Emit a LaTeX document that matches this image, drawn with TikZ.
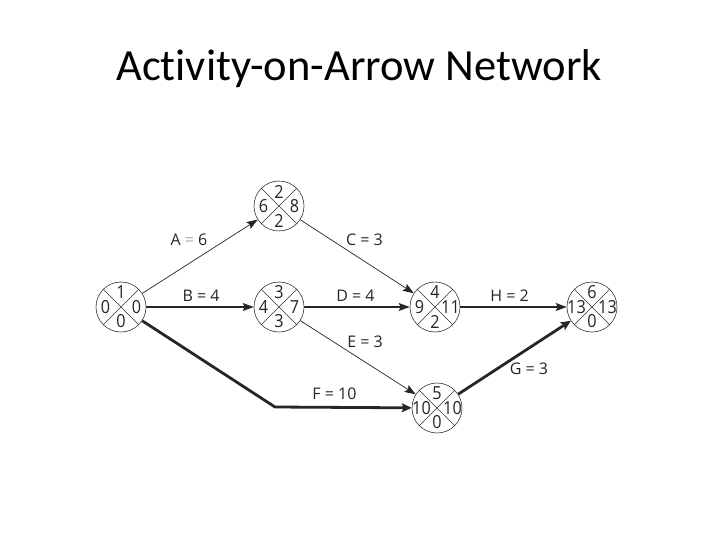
\documentclass[tikz,border=0pt]{standalone}
\usepackage{fontspec}
\setmainfont{Open Sans}
\newfontfamily\titlefont[RawFeature={-liga;-clig;-dlig;-calt}]{Carlito}
\newfontfamily\numfont[FakeStretch=0.9]{Open Sans}
\usetikzlibrary{arrows.meta}
\tikzset{
  event/.style={circle, draw=black!80, line width=0.6pt, minimum size=50pt, inner sep=0pt,
    path picture={\draw[line width=0.5pt, black!80]
      (path picture bounding box.north west) -- (path picture bounding box.south east)
      (path picture bounding box.north east) -- (path picture bounding box.south west);}},
  num/.style={font=\numfont\fontsize{18}{18}\selectfont, inner sep=0pt, text=black!85},
  lab/.style={font=\fontsize{16}{16}\selectfont, inner sep=0pt, text=black!85},
  thinarrow/.style={line width=0.7pt, draw=black!85, -{Stealth[length=11pt,width=8pt,inset=2pt]}},
  midarrow/.style={line width=1.1pt, draw=black!85, -{Stealth[length=11pt,width=8pt,inset=2pt]}},
  thickarrow/.style={line width=2.8pt, draw=black!85, -{Stealth[length=10pt,width=9pt,inset=2pt]}},
}
\newcommand{\evnode}[6]{%
  \node[event] (#1) at (#2) {};
  \node[num] (#1t) at ([yshift=14.5pt]#1.center) {#3};
  \node[num] (#1l) at ([xshift=-15.5pt]#1.center) {#4};
  \node[num] (#1r) at ([xshift=15.5pt]#1.center) {#5};
  \node[num] (#1b) at ([yshift=-14.5pt]#1.center) {#6};
}
\begin{document}
\begin{tikzpicture}[x=1pt,y=-1pt]
\useasboundingbox[fill=white] (0,0) rectangle (720,540);
\node[font=\titlefont\fontsize{44.5}{50}\selectfont, anchor=base, inner sep=0pt] (title) at (359,80.7) {Activi\kern0pt ty-on-Arrow Network};

\evnode{n1}{121,307}{1}{0}{0}{0}
\evnode{n2}{279,206}{2}{6}{8}{2}
\evnode{n3}{279,307}{3}{4}{7}{3}
\evnode{n4}{435,307}{4}{9}{11}{2}
\evnode{n5}{437,408}{5}{10}{10}{0}
\evnode{n6}{592,307}{6}{13}{13}{0}

\coordinate (fc) at (275,407);

\draw[thinarrow] (n1) -- (n2);
\draw[thinarrow] (n2) -- (n4);
\draw[midarrow] (n1) -- (n3);
\draw[midarrow] (n3) -- (n4);
\draw[midarrow] (n4) -- (n6);
\draw[thinarrow] (n3) -- (n5);
\draw[thickarrow] (n1) -- (fc) -- (n5);
\draw[thickarrow] (n5) -- (n6);

\node[lab] (la) at (189,240) {A {\color{black!35}=} 6};
\node[lab] (lb) at (201,296) {B = 4};
\node[lab] (lc) at (364.5,240) {C = 3};
\node[lab] (ld) at (355.5,296) {D = 4};
\node[lab] (lh) at (509.5,296) {H = 2};
\node[lab] (le) at (365,341.5) {E = 3};
\node[lab] (lf) at (334.5,394) {F = 10};
\node[lab] (lg) at (529,369) {G = 3};
\end{tikzpicture}
\end{document}
